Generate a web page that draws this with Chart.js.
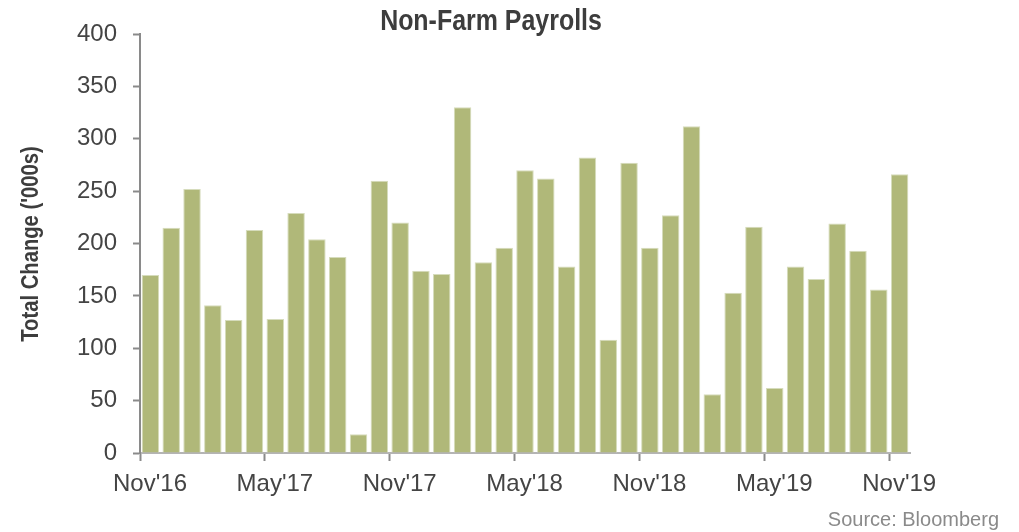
<!DOCTYPE html>
<html>
<head>
<meta charset="utf-8">
<script src="https://cdn.jsdelivr.net/npm/chart.js@4"></script>
<style>
    html, body { margin: 0; padding: 0; background: #fff; }
    #wrap { width: 1019px; height: 532px; }
</style>
</head>
<body>
<div id="wrap"><canvas id="nfpChart"></canvas></div>
<script>
// Non-Farm Payrolls, monthly change ('000s)
const months = [
    "Nov'16", "Dec'16", "Jan'17", "Feb'17", "Mar'17", "Apr'17",
    "May'17", "Jun'17", "Jul'17", "Aug'17", "Sep'17", "Oct'17",
    "Nov'17", "Dec'17", "Jan'18", "Feb'18", "Mar'18", "Apr'18",
    "May'18", "Jun'18", "Jul'18", "Aug'18", "Sep'18", "Oct'18",
    "Nov'18", "Dec'18", "Jan'19", "Feb'19", "Mar'19", "Apr'19",
    "May'19", "Jun'19", "Jul'19", "Aug'19", "Sep'19", "Oct'19",
    "Nov'19"
];
const payrolls = [
    170, 215, 252, 141, 127, 213,
    128, 229, 204, 187, 18, 260,
    220, 174, 171, 330, 182, 196,
    270, 262, 178, 282, 108, 277,
    196, 227, 312, 56, 153, 216,
    62, 178, 166, 219, 193, 156,
    266
];
const xTickIdx = [0, 6, 12, 18, 24, 30, 36];
const yTicks = [0, 50, 100, 150, 200, 250, 300, 350, 400];

const chartTitle = "Non-Farm Payrolls";
const yTitle = "Total Change ('000s)";
const sourceText = "Source: Bloomberg";

document.addEventListener("DOMContentLoaded", function () {
    initPayrollChart();
});

// Title, axis title and source note (condensed by squeezing the canvas)
const textPlugin = {
    id: "textNotes",
    afterDraw(chart) {
        const ctx = chart.ctx;
        ctx.save();
        ctx.textBaseline = "middle";
        ctx.textAlign = "center";
        ctx.fillStyle = "#3d3d3d";

        ctx.save();
        ctx.translate(491, 22);
        ctx.scale(0.86, 1);
        ctx.font = 'bold 29px "Liberation Sans", sans-serif';
        ctx.fillText(chartTitle, 0, 0);
        ctx.restore();

        ctx.save();
        ctx.translate(32, 244);
        ctx.rotate(-Math.PI / 2);
        ctx.scale(0.88, 1);
        ctx.font = 'bold 23px "Liberation Sans", sans-serif';
        ctx.fillText(yTitle, 0, 0);
        ctx.restore();

        ctx.fillStyle = "#8a8a8a";
        ctx.textAlign = "right";
        ctx.font = '20px "Liberation Sans", sans-serif';
        ctx.fillText(sourceText, 999, 520);
        ctx.restore();
    },
};

function initPayrollChart() {
    const ctx = document.getElementById("nfpChart");
    // bars sit in the middle of each month slot, ticks on slot edges
    const points = payrolls.map((v, i) => ({ x: i + 0.5, y: v }));

    new Chart(ctx, {
        type: "bar",
        data: {
            datasets: [
                {
                    label: "Non-Farm Payrolls",
                    data: points,
                    backgroundColor: "#b0b879",
                    borderColor: "#d6dcbc",
                    borderWidth: 1,
                    barPercentage: 0.84,
                    categoryPercentage: 1,
                },
            ],
        },
        options: {
            responsive: true,
            maintainAspectRatio: false,
            animation: false,
            layout: {
                padding: { top: 34, right: 109, bottom: 0, left: 0 },
            },
            scales: {
                x: {
                    type: "linear",
                    min: 0,
                    max: months.length,
                    offset: false,
                    afterBuildTicks: function (scale) {
                        scale.ticks = xTickIdx.map((v) => ({ value: v }));
                    },
                    afterFit: function (scale) {
                        scale.height = 79;
                    },
                    ticks: {
                        autoSkip: false,
                        maxRotation: 0,
                        padding: 9,
                        labelOffset: 10,
                        color: "#444",
                        font: { family: "Liberation Sans", size: 24 },
                        callback: function (value) {
                            return months[value];
                        },
                    },
                    grid: {
                        offset: false,
                        drawOnChartArea: false,
                        drawTicks: true,
                        tickLength: 8,
                        tickWidth: 2,
                        tickColor: "#8a8a8a",
                    },
                    border: {
                        display: true,
                        color: "#b4b4b4",
                        width: 2,
                    },
                },
                y: {
                    min: 0,
                    max: 400,
                    afterBuildTicks: function (scale) {
                        scale.ticks = yTicks.map((v) => ({ value: v }));
                    },
                    afterFit: function (scale) {
                        scale.width = 140;
                    },
                    ticks: {
                        padding: 16,
                        color: "#444",
                        font: { family: "Liberation Sans", size: 24 },
                    },
                    grid: {
                        drawOnChartArea: false,
                        drawTicks: true,
                        tickLength: 7,
                        tickWidth: 2,
                        tickColor: "#8a8a8a",
                    },
                    border: {
                        display: true,
                        color: "#8a8a8a",
                        width: 2,
                    },
                },
            },
            plugins: {
                legend: { display: false },
                tooltip: { enabled: false },
            },
        },
        plugins: [textPlugin],
    });
}
</script>
</body>
</html>
